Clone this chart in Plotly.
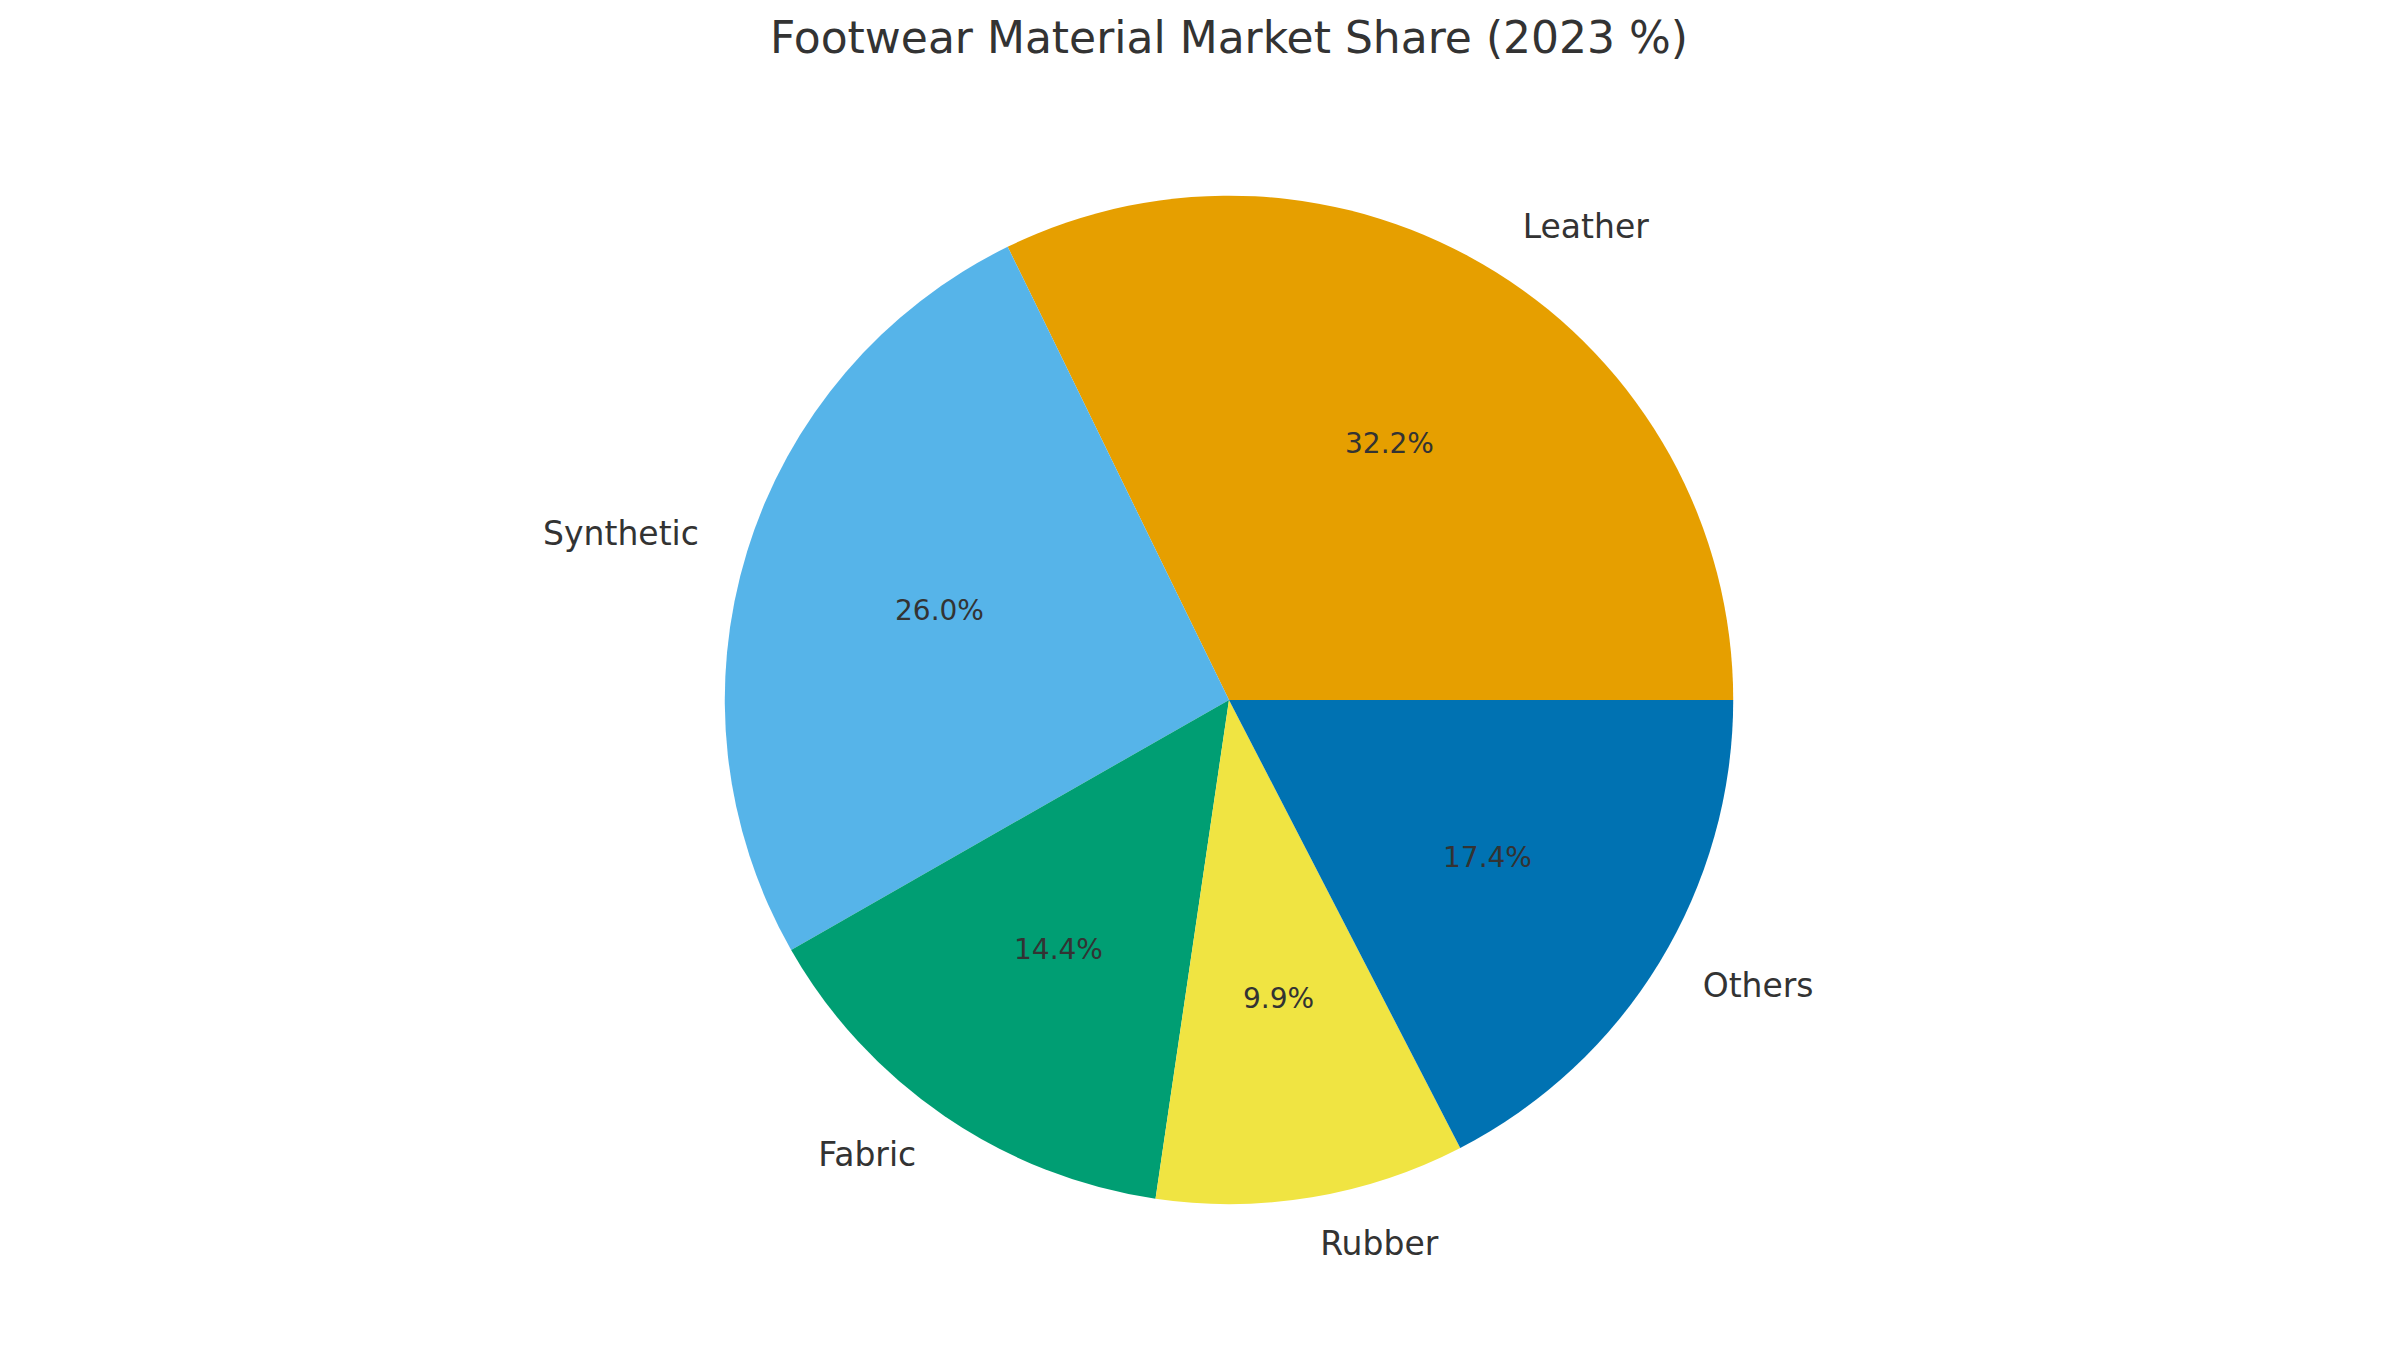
"""
鞋材市场份额饼图（2023）。
扇区用 go.Pie 画，类别名和百分比按 matplotlib 的习惯放在 1.1r / 0.6r 处。
"""

import numpy as np
import plotly.graph_objects as go

# 数据
materials = ["Leather", "Synthetic", "Fabric", "Rubber", "Others"]
shares = [32.2, 26.0, 14.4, 9.9, 17.4]
colors = ["#E69F00", "#56B4E9", "#009E73", "#F0E442", "#0072B2"]

FONT = "DejaVu Sans"
TEXT_COLOR = "#333333"
W, H = 2400, 1350


def main():
    """绘制饼图"""
    domain = dict(x=[0.1975, 0.82], y=[0.114, 0.861])

    # 饼图中心与半径（像素）
    cx = W * (domain["x"][0] + domain["x"][1]) / 2
    cy = H * (1 - (domain["y"][0] + domain["y"][1]) / 2)
    r = min(W * (domain["x"][1] - domain["x"][0]), H * (domain["y"][1] - domain["y"][0])) / 2

    # plotly 逆时针时第一块以 rotation 为终点，这里让第一块从 3 点钟方向开始逆时针
    total = sum(shares)
    rotation = 90 - 360 * shares[0] / total

    fig = go.Figure()

    fig.add_trace(
        go.Pie(
            labels=materials,
            values=shares,
            sort=False,
            direction="counterclockwise",
            rotation=rotation,
            domain=domain,
            marker=dict(colors=colors, line=dict(width=0)),
            textinfo="none",
            showlegend=False,
        )
    )

    # 每块扇区的中间角度
    fracs = np.array(shares) / total
    mid = 2 * np.pi * (np.cumsum(fracs) - fracs / 2)
    cos, sin = np.cos(mid), np.sin(mid)

    # 外侧类别名（1.1r）
    fig.add_trace(
        go.Scatter(
            x=1.1 * cos,
            y=1.1 * sin,
            mode="text",
            text=materials,
            textposition=["middle right" if c > 0 else "middle left" for c in cos],
            textfont=dict(family=FONT, size=33, color=TEXT_COLOR),
            hoverinfo="skip",
            showlegend=False,
        )
    )

    # 百分比（0.6r），用注释才能盖在饼上面
    for c, s, p in zip(cos, sin, fracs):
        fig.add_annotation(
            x=0.6 * c, y=0.6 * s,
            xref="x", yref="y",
            text=f"{p:.1%}",
            showarrow=False,
            xanchor="center", yanchor="middle",
            font=dict(family=FONT, size=28, color=TEXT_COLOR),
        )

    # 坐标轴铺满整张图，1 个单位 = 饼半径
    axis = dict(visible=False, fixedrange=True, showgrid=False, zeroline=False)
    fig.update_xaxes(range=[-cx / r, (W - cx) / r], **axis)
    fig.update_yaxes(range=[-(H - cy) / r, cy / r], **axis)

    fig.update_layout(
        width=W,
        height=H,
        paper_bgcolor="white",
        plot_bgcolor="rgba(0,0,0,0)",
        margin=dict(l=0, r=0, t=0, b=0),
        title=dict(
            text="Footwear Material Market Share (2023 %)",
            x=1221 / W,
            xanchor="center",
            y=1 - 30 / H,
            yanchor="middle",
            font=dict(family=FONT, size=44, color=TEXT_COLOR),
        ),
        font=dict(family=FONT, color=TEXT_COLOR),
    )

    fig.write_html("out.html")


if __name__ == "__main__":
    main()
